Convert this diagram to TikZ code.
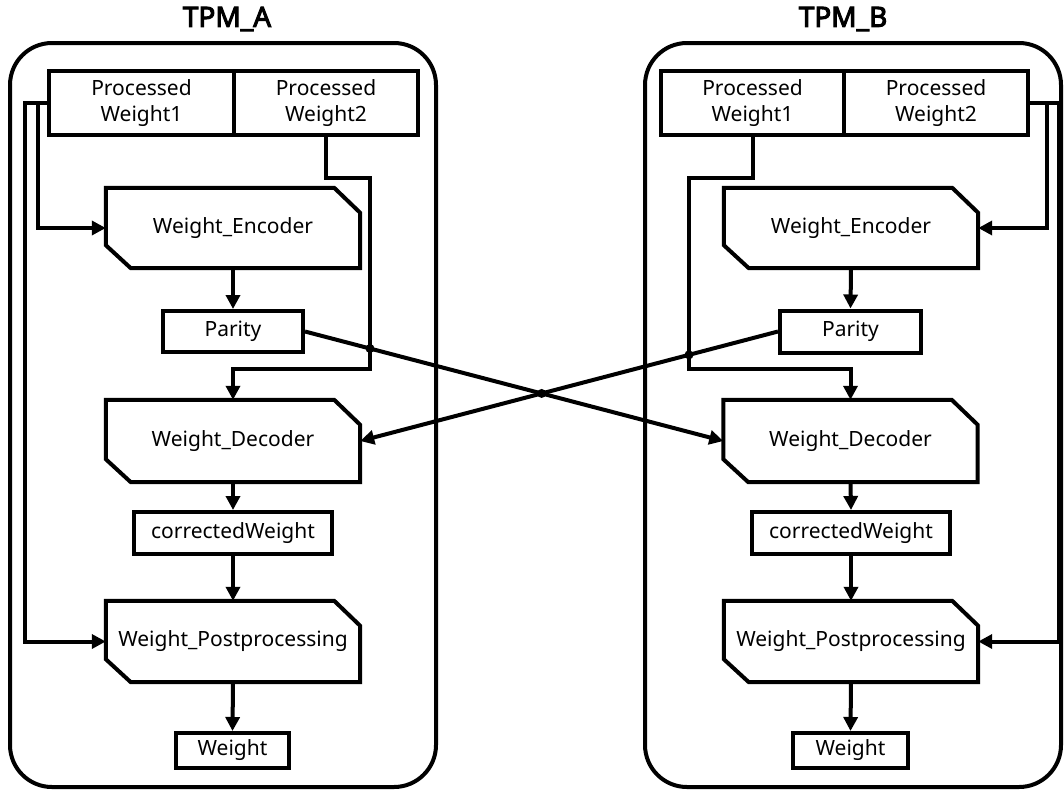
\documentclass[tikz,border=0pt]{standalone}
\usepackage{fontspec}
\setmainfont{Noto Sans}
\newfontfamily\titlefont{Noto Sans}[FakeBold=3.5]
\usetikzlibrary{arrows.meta,calc,intersections}
\tikzset{
  ln/.style={line width=4pt},
  arr/.style={ln,-{Triangle[length=14pt,width=14pt]}},
  box/.style={draw,ln,rectangle,inner sep=0pt,font=\fontsize{21}{26}\selectfont,align=center},
  procbox/.style={rectangle,inner sep=0pt,minimum width=254pt,font=\fontsize{21}{26}\selectfont},
  container/.style={draw,ln,rectangle,rounded corners=42pt,inner sep=0pt},
  title/.style={font=\fontsize{28}{32}\selectfont\titlefont,inner sep=0pt},
  jdot/.style={fill=black,circle,inner sep=0pt,minimum size=9pt}
}
\newcommand\chamfdraw[1]{%
  \draw[ln,line join=miter] ([xshift=-26pt]#1.north east) -- (#1.north west) -- ([yshift=23pt]#1.south west)
     -- ([xshift=25pt]#1.south west) -- (#1.south east) -- ([yshift=-25pt]#1.north east) -- cycle;}
\begin{document}
\begin{tikzpicture}[x=1pt,y=-1pt]
\useasboundingbox (0,0) rectangle (1064,790);
% containers
\node[container,minimum width=426pt,minimum height=744pt] (tpmA) at (223,415) {};
\node[container,minimum width=416pt,minimum height=744pt] (tpmB) at (853,415) {};
\node[title] (tA) at (227,19) {TPM\_A};
\node[title] (tB) at (843,19) {TPM\_B};
% ---- A nodes
\node[box,minimum width=185pt,minimum height=64pt] (pw1A) at (141.5,103) {Processed\\Weight1};
\node[box,minimum width=184pt,minimum height=64pt] (pw2A) at (326,103) {Processed\\Weight2};
\node[procbox,minimum height=80pt] (encA) at (233,228) {Weight\_Encoder};
\node[box,minimum width=140pt,minimum height=41pt] (parA) at (233,331.5) {Parity};
\node[procbox,minimum height=82pt] (decA) at (233,441) {Weight\_Decoder};
\node[box,minimum width=198pt,minimum height=42pt] (corA) at (233,533) {correctedWeight};
\node[procbox,minimum height=81pt] (ppA) at (233,641.5) {Weight\_Postprocessing};
\node[box,minimum width=113pt,minimum height=35pt] (wA) at (232.5,750.5) {Weight};
\chamfdraw{encA}\chamfdraw{decA}\chamfdraw{ppA}
% ---- B nodes
\node[box,minimum width=183pt,minimum height=64pt] (pw1B) at (752.5,103) {Processed\\Weight1};
\node[box,minimum width=184pt,minimum height=64pt] (pw2B) at (936,103) {Processed\\Weight2};
\node[procbox,minimum height=80pt] (encB) at (851,228) {Weight\_Encoder};
\node[box,minimum width=141pt,minimum height=42pt] (parB) at (850.5,331.5) {Parity};
\node[procbox,minimum height=82pt] (decB) at (850.5,441) {Weight\_Decoder};
\node[box,minimum width=198pt,minimum height=42pt] (corB) at (851,533) {correctedWeight};
\node[procbox,minimum height=81pt] (ppB) at (851,641.5) {Weight\_Postprocessing};
\node[box,minimum width=115pt,minimum height=35pt] (wB) at (850.5,750.5) {Weight};
\chamfdraw{encB}\chamfdraw{decB}\chamfdraw{ppB}
% ---- A connectors
\draw[arr] (pw1A.west) -- ++(-9,0) |- (encA.west);
\draw[arr] (pw1A.west) -- ++(-22,0) |- (ppA.west);
\coordinate (a1) at (370,178);
\coordinate (a2) at (370,369);
\draw[arr] (pw2A.south) |- (a1) -- (a2) -| (decA.north);
\draw[arr] (encA.south) -- (parA.north);
\draw[arr] (decA.south) -- (corA.north);
\draw[arr] (corA.south) -- (ppA.north);
\draw[arr] (ppA.south) -- (wA.north);
% ---- B connectors
\draw[arr] (pw2B.east) -- ++(17,0) |- (encB.east);
\draw[arr] (pw2B.east) -- ++(29,0) |- (ppB.east);
\coordinate (b1) at (689,178);
\coordinate (b2) at (689,369);
\draw[arr] (pw1B.south) |- (b1) -- (b2) -| (decB.north);
\draw[arr] (encB.south) -- (parB.north);
\draw[arr] (decB.south) -- (corB.north);
\draw[arr] (corB.south) -- (ppB.north);
\draw[arr] (ppB.south) -- (wB.north);
% ---- cross connectors
\draw[arr,name path=crossAB] (parA.east) -- (decB.west);
\draw[arr,name path=crossBA] (parB.west) -- (decA.east);
\path[name path=vA] (a1) -- (a2);
\path[name path=vB] (b1) -- (b2);
\path[name intersections={of=crossAB and vA,by={i1}}];
\path[name intersections={of=crossBA and vB,by={i2}}];
\path[name intersections={of=crossAB and crossBA,by={i3}}];
\node[jdot] (d1) at (i1) {};
\node[jdot] (d2) at (i2) {};
\node[jdot] (d3) at (i3) {};
\end{tikzpicture}
\end{document}
